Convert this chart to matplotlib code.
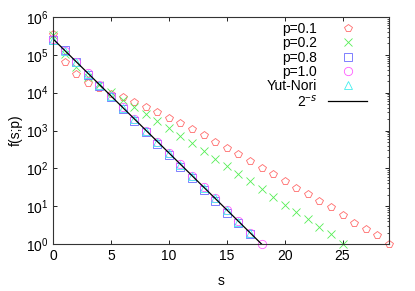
import matplotlib.pyplot as plt
import numpy as np

plt.rcParams['font.family'] = ['Liberation Sans', 'DejaVu Sans']
plt.rcParams['mathtext.fontset'] = 'custom'
plt.rcParams['mathtext.rm'] = 'Liberation Sans'

# datos
s_p01 = list(range(0, 30))
f_p01 = [3.5e5, 6.6e4, 3.1e4, 1.8e4, 1.3e4, 9.5e3, 7.8e3, 5.6e3, 4.3e3, 3.0e3,
         2.2e3, 1.55e3, 1.07e3, 760, 500, 350, 240, 160, 105, 71,
         47, 31, 21, 14, 9.3, 6.0, 3.7, 2.5, 1.7, 1.0]

s_p02 = list(range(0, 26))
f_p02 = [3.3e5, 1.05e5, 4.9e4, 2.6e4, 1.6e4, 1.05e4, 6.3e3, 4.1e3, 2.7e3, 1.8e3,
         1.15e3, 720, 460, 280, 180, 115, 72, 46, 29, 18,
         11, 7.1, 4.6, 2.8, 1.8, 1.0]

s_p08 = list(range(0, 18))
f_p08 = [2.4e5, 1.35e5, 6.3e4, 3.0e4, 1.5e4, 7.5e3, 3.6e3, 1.8e3, 900, 450,
         220, 110, 55, 27, 14, 6.8, 3.5, 1.8]

s_p10 = list(range(0, 19))
f_p10 = [2.6e5, 1.3e5, 6.5e4, 3.3e4, 1.6e4, 8.2e3, 4.1e3, 2.0e3, 1.0e3, 510,
         256, 128, 64, 32, 16, 8, 4, 2, 1]

s_yut = list(range(0, 18))
f_yut = [2.5e5, 1.3e5, 6.4e4, 3.2e4, 1.6e4, 8.0e3, 4.0e3, 2.0e3, 1.0e3, 500,
         250, 125, 62, 31, 16, 7.8, 3.9, 2.0]

# curva 2^-s normalizada
s_line = np.array([0, 18])
f_line = 2.0 ** (18 - s_line)

fig = plt.figure(figsize=(4.15, 2.91), dpi=100)
ax = fig.add_axes([0.128, 0.1615, 0.809, 0.78])

kw = dict(linestyle='none', markersize=6, markerfacecolor='none',
          markeredgewidth=0.6, clip_on=False)
ax.plot(s_p01, f_p01, marker='p', color='#ff6a6a', label='p=0.1', **kw)
ax.plot(s_p02, f_p02, marker='x', color='#55ee55', label='p=0.2', **kw)
ax.plot(s_p08, f_p08, marker='s', color='#6a6aff', label='p=0.8', **kw)
ax.plot(s_p10, f_p10, marker='o', color='#ff5cff', label='p=1.0', **kw)
ax.plot(s_yut, f_yut, marker='^', color='#44eeee', label='Yut-Nori', **kw)
ax.plot(s_line, f_line, color='black', linewidth=0.9, label='2$^{-s}$')

ax.set_yscale('log')
ax.set_xlim(0, 29)
ax.set_ylim(1, 1e6)
ax.set_xticks([0, 5, 10, 15, 20, 25])
ax.set_yticks([1, 10, 100, 1e3, 1e4, 1e5, 1e6])
ax.tick_params(direction='in', top=True, right=True, labelsize=10, length=3, width=0.6)
ax.tick_params(which='minor', direction='in', right=True, left=False, length=1.5, width=0.5)
for sp in ax.spines.values():
    sp.set_linewidth(0.8)
    sp.set_color('#333333')

ax.set_xlabel('s', fontsize=10, labelpad=8)
ax.set_ylabel('f(s;p)', fontsize=10, labelpad=2)

ax.legend(loc='upper right', frameon=False, markerfirst=False, fontsize=10,
          handlelength=2.8, handletextpad=0.8, labelspacing=0.02,
          bbox_to_anchor=(0.96, 1.015), borderaxespad=0.2)

fig.savefig('out.png', dpi=100)
